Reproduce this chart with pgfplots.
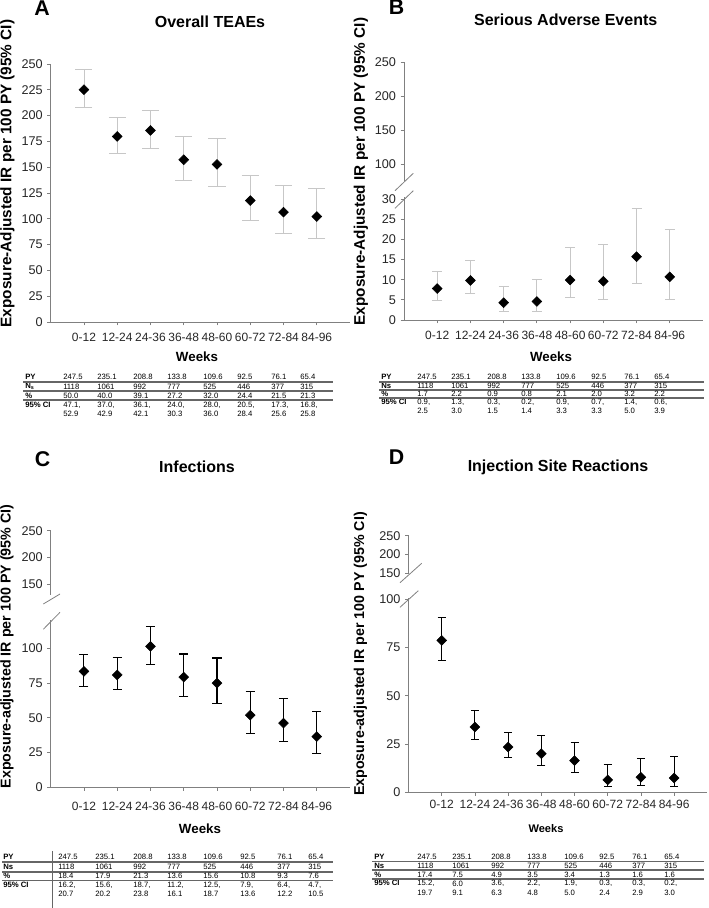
\documentclass[border=0pt]{standalone}
\usepackage{pgfplots}
\usepackage{pgfplotstable}
\pgfplotsset{compat=1.18}
\usepackage{fontspec}
\setmainfont{Liberation Sans}

\pgfplotstableread{
x y lo hi
1 225.1 208.0 245.1
2 179.8 163.6 198.3
3 185.6 168.2 205.4
4 157.2 137.5 180.1
5 152.7 131.6 178.2
6 117.7 98.0 142.3
7 106.4 86.0 132.3
8 102.2 80.9 129.7
}\dataA
\pgfplotstableread{
x y lo hi
1 7.8 4.9 12.0
2 9.8 6.5 14.7
3 4.3 2.2 8.4
4 4.6 2.1 10.1
5 9.9 5.6 18.0
6 9.6 5.1 18.7
7 15.7 9.0 27.7
8 10.7 5.1 22.5
}\dataB
\pgfplotstableread{
x y lo hi
1 83.4 72.6 95.4
2 80.8 70.4 93.5
3 101.4 88.5 115.9
4 79.3 65.6 95.9
5 75.0 60.3 93.0
6 51.9 38.9 69.0
7 46.2 32.9 64.2
8 36.5 24.5 54.6
}\dataC
\pgfplotstableread{
x y lo hi
1 78.6 68.3 90.5
2 33.8 27.2 42.2
3 23.4 17.8 30.9
4 20.0 13.8 29.3
5 16.4 10.3 25.9
6 6.4 2.9 14.5
7 7.8 3.4 17.4
8 7.4 3.1 18.3
}\dataD

\pgfplotsset{
  panel/.style={scale only axis, anchor=south west,
    axis lines*=left, axis line style={black!50, line width=0.6pt},
    tick style={black!50, line width=0.6pt}, tick align=outside, major tick length=2.5pt,
    xmin=0, xmax=9, xtick={1,...,8},
    xticklabels={0-12,12-24,24-36,36-48,48-60,60-72,72-84,84-96},
    x tick label style={font=\fontsize{9}{10}\selectfont, text=black!85},
    y tick label style={font=\fontsize{9.5}{11}\selectfont, text=black!85},
    /pgf/number format/assume math mode=true, clip=false},
  upper/.style={scale only axis, anchor=south west,
    axis x line=none, axis y line*=left, axis line style={black!50, line width=0.6pt},
    tick style={black!50, line width=0.6pt}, tick align=outside, major tick length=2.5pt,
    xmin=0, xmax=9, xtick=\empty,
    y tick label style={font=\fontsize{9.5}{11}\selectfont, text=black!85},
    /pgf/number format/assume math mode=true},
  pts/.style={only marks, mark=square*, mark options={rotate=45, fill=black, draw=black}, mark size=2.6pt},
}

\begin{document}
\begin{tikzpicture}[x=0.75pt,y=0.75pt]
\useasboundingbox (0,0) rectangle (709,908);

% ---------- Panel A ----------
\begin{axis}[panel, at={(38.03pt,439.5pt)}, width=224.5pt, height=193.5pt,
  ymin=0, ymax=250, ytick={0,25,...,250}, xticklabel style={yshift=-2pt}]
\addplot[pts, error bars/.cd, y dir=both, y explicit,
  error bar style={black!22, line width=0.6pt},
  error mark options={black!22, rotate=90, mark size=6.4pt, line width=0.6pt}]
  table[x=x, y=y, y error plus expr=\thisrow{hi}-\thisrow{y}, y error minus expr=\thisrow{y}-\thisrow{lo}] {\dataA};
\end{axis}

% ---------- Panel B ----------
\begin{axis}[panel, at={(303pt,441pt)}, width=224.25pt, height=92.25pt,
  ymin=0, ymax=30.5, ytick={0,5,...,30}, xticklabel style={yshift=-2pt}]
\addplot[pts, error bars/.cd, y dir=both, y explicit,
  error bar style={black!22, line width=0.6pt},
  error mark options={black!22, rotate=90, mark size=3.75pt, line width=0.6pt}]
  table[x=x, y=y, y error plus expr=\thisrow{hi}-\thisrow{y}, y error minus expr=\thisrow{y}-\thisrow{lo}] {\dataB};
\end{axis}
\begin{axis}[upper, at={(303pt,544.95pt)}, width=224.25pt, height=89.5pt,
  ymin=75, ymax=250, ytick={100,150,200,250}]
\end{axis}

% ---------- Panel C ----------
\begin{axis}[panel, at={(38.03pt,90.53pt)}, width=224.5pt, height=125.1pt,
  ymin=0, ymax=120, ytick={0,25,...,100}, xticklabel style={yshift=-5pt}]
\addplot[pts, error bars/.cd, y dir=both, y explicit,
  error bar style={black, line width=0.8pt},
  error mark options={black, rotate=90, mark size=3.4pt, line width=0.8pt}]
  table[x=x, y=y, y error plus expr=\thisrow{hi}-\thisrow{y}, y error minus expr=\thisrow{y}-\thisrow{lo}] {\dataC};
\end{axis}
\begin{axis}[upper, at={(38.03pt,234.9pt)}, width=224.5pt, height=48.08pt,
  ymin=130, ymax=250, ytick={150,200,250}]
\end{axis}

% ---------- Panel D ----------
\begin{axis}[panel, at={(306.4pt,86.78pt)}, width=224.1pt, height=145.65pt,
  ymin=0, ymax=100.5, ytick={0,25,...,100}, xticklabel style={yshift=0pt}]
\addplot[pts, error bars/.cd, y dir=both, y explicit,
  error bar style={black, line width=0.8pt},
  error mark options={black, rotate=90, mark size=3pt, line width=0.8pt}]
  table[x=x, y=y, y error plus expr=\thisrow{hi}-\thisrow{y}, y error minus expr=\thisrow{y}-\thisrow{lo}] {\dataD};
\end{axis}
\begin{axis}[upper, at={(306.4pt,250.2pt)}, width=224.1pt, height=29.03pt,
  ymin=147, ymax=250, ytick={150,200,250}]
\end{axis}

% ---------- annotations (pixel coordinates from top-left) ----------
\begin{scope}[shift={(0pt,681pt)}, x=0.75pt, y=-0.75pt]
  \tikzset{ttl/.style={font=\bfseries\fontsize{12}{14}\selectfont},
           let/.style={font=\bfseries\fontsize{16}{18}\selectfont},
           wk/.style={font=\bfseries\fontsize{10}{12}\selectfont},
           tbl/.style={anchor=west, inner sep=0pt, font=\fontsize{5.8}{6.5}\selectfont},
           tbh/.style={anchor=west, inner sep=0pt, font=\bfseries\fontsize{5.8}{6.5}\selectfont},
           brk/.style={black!50, line width=0.6pt},
           rl/.style={black!60, line width=1pt}}
  % letters and titles
  \node[let] at (42,8) {A};
  \node[let] at (396.5,7.5) {B};
  \node[let] at (42.5,459) {C};
  \node[let] at (396.5,457.5) {D};
  \node[ttl] at (210,22) {Overall TEAEs};
  \node[ttl] at (565.7,20) {Serious Adverse Events};
  \node[ttl] at (197,467) {Infections};
  \node[ttl] at (558,467) {Injection Site Reactions};
  % y labels
  \node[rotate=90, font=\bfseries\fontsize{11.5}{12}\selectfont] at (7.5,173.5) {Exposure-Adjusted IR per 100 PY (95\% CI)};
  \node[rotate=90, font=\bfseries\fontsize{11.5}{12}\selectfont] at (361,171.5) {Exposure-Adjusted IR per 100 PY (95\% CI)};
  \node[rotate=90, font=\bfseries\fontsize{10.7}{12}\selectfont] at (7,646.5) {Exposure-adjusted IR per 100 PY (95\% CI)};
  \node[rotate=90, font=\bfseries\fontsize{10.7}{12}\selectfont] at (360.5,654) {Exposure-adjusted IR per 100 PY (95\% CI)};
  % Weeks
  \node[wk] at (197,357) {Weeks};
  \node[wk] at (551,357) {Weeks};
  \node[wk] at (200,829) {Weeks};
  \node[font=\bfseries\fontsize{8.3}{10}\selectfont] at (546,829) {Weeks};
  % axis breaks
  \draw[brk] (395,190.7) -- (413.3,173.3);
  \draw[brk] (395,208.3) -- (413.3,190.7);
  \draw[brk] (43.3,604) -- (60,594);
  \draw[brk] (43.3,629.3) -- (60,612.3);
  \draw[brk] (400,582.7) -- (421.7,563.3);
  \draw[brk] (400,607.3) -- (418.3,590.7);

  % ---------- Table A ----------
  \node[tbh] at (25,377) {PY};
  \node[tbh] at (25,386.5) {N\textsubscript{s}};
  \node[tbh] at (25,395.5) {\%};
  \node[tbh] at (25,404.5) {95\% CI};
  \draw[rl] (23,382) -- (333,382);
  \draw[rl] (23,391) -- (333,391);
  \draw[rl] (23,400) -- (333,400);
  \foreach \x/\py/\ns/\pc/\lo/\hi in {63/247.5/1118/50.0/47.1/52.9, 97/235.1/1061/40.0/37.0/42.9,
      133/208.8/992/39.1/36.1/42.1, 167/133.8/777/27.2/24.0/30.3, 203/109.6/525/32.0/28.0/36.0,
      237/92.5/446/24.4/20.5/28.4, 271/76.1/377/21.5/17.3/25.6, 300/65.4/315/21.3/16.8/25.8}{
    \node[tbl] at (\x,377) {\py};
    \node[tbl] at (\x,386.5) {\ns};
    \node[tbl] at (\x,395.5) {\pc};
    \node[tbl] at (\x,405) {\lo,};
    \node[tbl] at (\x,414) {\hi};
  }

  % ---------- Table B ----------
  \node[tbh] at (381,377) {PY};
  \node[tbh] at (381,385.5) {Ns};
  \node[tbh] at (381,393.5) {\%};
  \node[tbh] at (381,402) {95\% CI};
  \draw[rl] (379,382) -- (704,382);
  \draw[rl] (379,390) -- (704,390);
  \draw[rl] (379,398) -- (704,398);
  \foreach \x/\py/\ns/\pc/\lo/\hi in {417/247.5/1118/1.7/0.9/2.5, 451/235.1/1061/2.2/1.3/3.0,
      487/208.8/992/0.9/0.3/1.5, 521/133.8/777/0.8/0.2/1.4, 556/109.6/525/2.1/0.9/3.3,
      591/92.5/446/2.0/0.7/3.3, 624/76.1/377/3.2/1.4/5.0, 654/65.4/315/2.2/0.6/3.9}{
    \node[tbl] at (\x,377) {\py};
    \node[tbl] at (\x,385.5) {\ns};
    \node[tbl] at (\x,393.5) {\pc};
    \node[tbl] at (\x,402.5) {\lo,};
    \node[tbl] at (\x,411) {\hi};
  }

  % ---------- Table C ----------
  \node[tbh] at (3,857) {PY};
  \node[tbh] at (3,867) {Ns};
  \node[tbh] at (3,876) {\%};
  \node[tbh] at (3,885) {95\% CI};
  \draw[rl] (2,862) -- (333,862);
  \draw[rl] (2,872) -- (333,872);
  \draw[rl] (2,880.5) -- (333,880.5);
  \draw[black!60, line width=0.6pt] (52.5,851) -- (52.5,908);
  \foreach \x/\py/\ns/\pc/\lo/\hi in {58/247.5/1118/18.4/16.2/20.7, 95/235.1/1061/17.9/15.6/20.2,
      133/208.8/992/21.3/18.7/23.8, 167/133.8/777/13.6/11.2/16.1, 203/109.6/525/15.6/12.5/18.7,
      240/92.5/446/10.8/7.9/13.6, 277/76.1/377/9.3/6.4/12.2, 308/65.4/315/7.6/4.7/10.5}{
    \node[tbl] at (\x,857) {\py};
    \node[tbl] at (\x,867) {\ns};
    \node[tbl] at (\x,876) {\pc};
    \node[tbl] at (\x,885.5) {\lo,};
    \node[tbl] at (\x,894) {\hi};
  }

  % ---------- Table D ----------
  \node[tbh] at (374,857) {PY};
  \node[tbh] at (374,866) {Ns};
  \node[tbh] at (374,874.5) {\%};
  \node[tbh] at (374,883) {95\% CI};
  \draw[rl] (372,861.5) -- (704,861.5);
  \draw[rl] (372,870) -- (704,870);
  \draw[rl] (372,879) -- (704,879);
  \foreach \x/\py/\ns/\pc/\lo/\hi in {417/247.5/1118/17.4/{15.2,}/19.7, 452/235.1/1061/7.5/6.0/9.1,
      491/208.8/992/4.9/{3.6,}/6.3, 527/133.8/777/3.5/{2.2,}/4.8, 564/109.6/525/3.4/{1.9,}/5.0,
      599/92.5/446/1.3/{0.3,}/2.4, 632/76.1/377/1.6/{0.3,}/2.9, 664/65.4/315/1.6/{0.2,}/3.0}{
    \node[tbl] at (\x,857) {\py};
    \node[tbl] at (\x,866) {\ns};
    \node[tbl] at (\x,874.5) {\pc};
    \node[tbl] at (\x,883.5) {\lo};
    \node[tbl] at (\x,893) {\hi};
  }
\end{scope}
\end{tikzpicture}
\end{document}
